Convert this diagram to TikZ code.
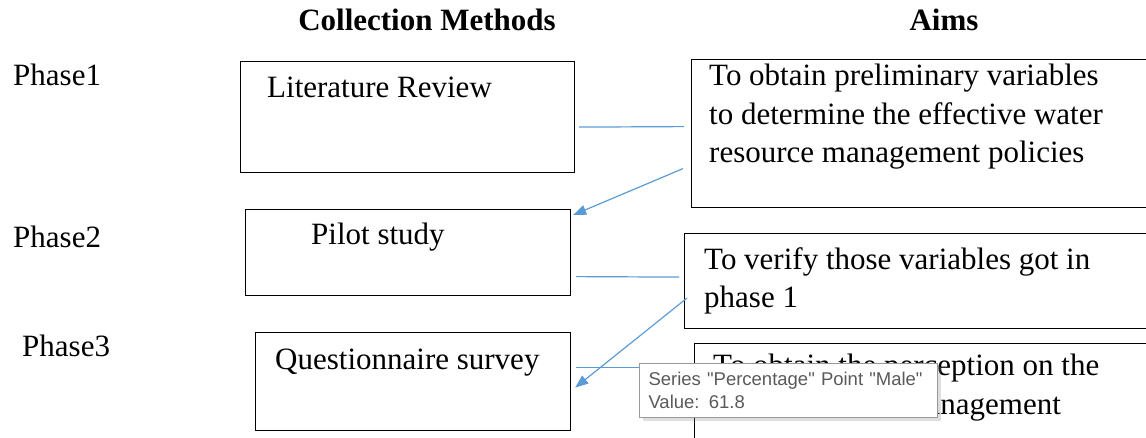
\documentclass[tikz,border=0pt]{standalone}
\usepackage{fontspec}
\setmainfont{Liberation Serif}
\newfontfamily\tipfont{Liberation Sans}
\usetikzlibrary{arrows.meta,calc,shadows}
\definecolor{linkblue}{RGB}{91,155,213}
\definecolor{tipgrey}{RGB}{90,90,90}

\begin{document}
\begin{tikzpicture}[x=1pt, y=-1pt,
	box/.style={draw, line width=1.2pt, inner sep=0pt, anchor=north west},
	txt/.style={anchor=base west, inner sep=0pt, align=left,
		font=\fontsize{31}{38.5}\selectfont},
	head/.style={anchor=base, inner sep=0pt, font=\fontsize{31}{38.5}\selectfont\bfseries},
	link/.style={draw=linkblue, line width=1.2pt},
	arr/.style={link, -{Triangle[length=13pt, width=10pt]}}
]
	\useasboundingbox (0,0) rectangle (1146,438);
	\clip (0,0) rectangle (1146,438);
	% headings
	\node[head] (hmeth) at (427,31) {Collection Methods};
	\node[head] (haims) at (944,31) {Aims};
	% phases
	\node[txt] (phase1) at (13,86) {Phase1};
	\node[txt] (phase2) at (13,248) {Phase2};
	\node[txt] (phase3) at (22,356) {Phase3};
	% collection methods
	\node[box, minimum width=334pt, minimum height=111pt] (lit) at (240,61) {};
	\node[txt] (littxt) at (267,98) {Literature Review};
	\node[box, minimum width=325pt, minimum height=86pt] (pilot) at (245,209) {};
	\node[txt] (pilottxt) at (311,245) {Pilot study};
	\node[box, minimum width=315pt, minimum height=98pt] (quest) at (255,332) {};
	\node[txt] (questtxt) at (275,369) {Questionnaire survey};
	% aims (base = last line)
	\node[box, minimum width=470pt, minimum height=148pt] (aim1) at (691,59) {};
	\node[txt] (aim1txt) at (709,163) {To obtain preliminary variables\\
		to determine the effective water\\ resource management policies};
	\node[box, minimum width=480pt, minimum height=95pt] (aim2) at (684,233) {};
	\node[txt] (aim2txt) at (704,308) {To verify those variables got in\\ phase 1};
	\node[box, minimum width=470pt, minimum height=120pt] (aim3) at (694,343) {};
	\node[txt] (aim3txt) at (713,414) {To obtain the perception on the\\
		water resource management};
	% connectors
	\draw[link] ($(lit.east)+(4,10)$) -- ($(aim1.west)+(-7,-7)$);
	\draw[arr] ($(aim1.west)+(-8,35)$) -- ($(pilot.north east)+(2,6)$);
	\draw[link] ($(pilot.east)+(5,24)$) -- ($(aim2.west)+(-5,-4)$);
	\draw[arr] ($(aim2.west)+(3,17)$) -- ($(quest.east)+(4,6)$);
	\draw[link] ($(quest.east)+(5,-14)$) -- ($(aim3.west)+(0,-36)$);
	% tooltip
	\node[draw=black!40, fill=white, line width=1pt, anchor=north west,
		minimum width=298pt, minimum height=54pt, text width=280pt,
		inner xsep=9pt, inner ysep=0pt, align=left, text=tipgrey,
		font=\tipfont\fontsize{18.5}{23}\selectfont,
		drop shadow={shadow xshift=3pt, shadow yshift=-3pt, opacity=0.25}]
		(tip) at (639,363) {Series "Percentage" Point "Male"\\Value: 61.8};
\end{tikzpicture}
\end{document}
